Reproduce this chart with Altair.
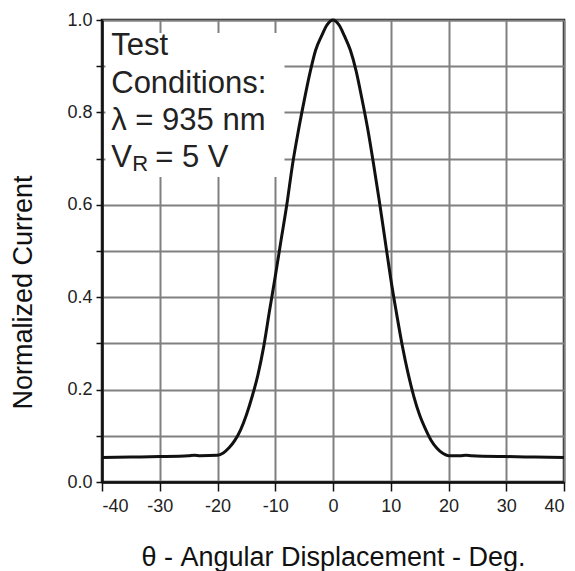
import altair as alt
import pandas as pd

# Curve data
angle_deg = [-40, -35, -30, -25, -24, -23, -20, -19, -18, -17, -16, -15, -14, -13, -12, -11,
             -10, -9, -8, -7, -6, -5, -4, -3, -2, -1, 0, 1, 2, 3, 4, 5, 6, 7, 8, 9, 10,
             11, 12, 13, 14, 15, 16, 17, 18, 19, 20, 22, 23, 24, 30, 35, 40]
norm_current = [0.053, 0.054, 0.055, 0.057, 0.058, 0.057, 0.058, 0.063, 0.074, 0.090, 0.113,
                0.145, 0.185, 0.232, 0.293, 0.370, 0.445, 0.523, 0.600, 0.688, 0.760, 0.825,
                0.885, 0.935, 0.965, 0.990, 1.000, 0.990, 0.965, 0.935, 0.890, 0.830, 0.765,
                0.690, 0.610, 0.525, 0.440, 0.365, 0.295, 0.235, 0.185, 0.145, 0.115, 0.090,
                0.073, 0.062, 0.057, 0.057, 0.058, 0.057, 0.055, 0.054, 0.053]

x_ticks = [-40, -30, -20, -10, 0, 10, 20, 30, 40]
y_ticks = [0.0, 0.1, 0.2, 0.3, 0.4, 0.5, 0.6, 0.7, 0.8, 0.9, 1.0]

curve = pd.DataFrame({"angle": angle_deg, "current": norm_current})

TICK_FONT = "Liberation Sans"
TEXT_FONT = "Liberation Sans"

xscale = alt.Scale(domain=[-40, 40], nice=False, zero=False)
yscale = alt.Scale(domain=[0, 1], nice=False)

xaxis = alt.Axis(values=x_ticks, title="θ - Angular Displacement - Deg.",
                 labelExpr="datum.value < 0 ? '-' + abs(datum.value) : '' + datum.value",
                 labelFont=TICK_FONT, labelFontSize=18, labelColor="#222",
                 labelPadding=6, tickSize=9, tickColor="#111", tickWidth=1.5,
                 domainColor="#111", domainWidth=2.5,
                 grid=True, gridColor="#808080", gridWidth=2,
                 titleFont=TEXT_FONT, titleFontSize=27, titleFontWeight="normal",
                 titleColor="#111", titleBaseline="alphabetic", titleY=83)

yaxis = alt.Axis(values=y_ticks, title="Normalized Current",
                 labelExpr="(round(datum.value*10) % 2 == 0) ? format(datum.value, '.1f') : ''",
                 labelFont=TICK_FONT, labelFontSize=18, labelColor="#222",
                 labelPadding=4, tickSize=6, tickColor="#111", tickWidth=1.5,
                 domainColor="#111", domainWidth=2.5,
                 grid=True, gridColor="#808080", gridWidth=2,
                 titleFont=TEXT_FONT, titleFontSize=27, titleFontWeight="normal",
                 titleColor="#111", titlePadding=29, titleY=272)

base = alt.Chart(curve)

line = base.mark_line(color="#111", strokeWidth=3, interpolate="monotone").encode(
    x=alt.X("angle:Q", scale=xscale, axis=xaxis),
    y=alt.Y("current:Q", scale=yscale, axis=yaxis),
)

# white box behind the test-conditions note
box_df = pd.DataFrame({"x1": [-39.4], "x2": [-8.4], "y1": [0.66], "y2": [0.972]})
box = alt.Chart(box_df).mark_rect(color="white").encode(
    x=alt.X("x1:Q", scale=xscale), x2="x2:Q",
    y=alt.Y("y1:Q", scale=yscale), y2="y2:Q",
)

note_df = pd.DataFrame({
    "x": [-38.4, -38.4, -38.4],
    "y": [0.924, 0.842, 0.762],
    "t": ["Test", "Conditions:", "λ = 935 nm"],
})
note = alt.Chart(note_df).mark_text(align="left", baseline="alphabetic", font=TEXT_FONT,
                                    fontSize=31, color="#222").encode(
    x=alt.X("x:Q", scale=xscale), y=alt.Y("y:Q", scale=yscale), text="t:N")

vr_df = pd.DataFrame({"x": [-38.4], "y": [0.681]})
v_txt = alt.Chart(vr_df).mark_text(align="left", baseline="alphabetic", font=TEXT_FONT,
                                   fontSize=31, color="#222", text="V").encode(
    x=alt.X("x:Q", scale=xscale), y=alt.Y("y:Q", scale=yscale))
r_txt = alt.Chart(vr_df).mark_text(align="left", baseline="alphabetic", font=TEXT_FONT,
                                   fontSize=22, color="#222", text="R", dx=21, dy=4).encode(
    x=alt.X("x:Q", scale=xscale), y=alt.Y("y:Q", scale=yscale))
rest_txt = alt.Chart(vr_df).mark_text(align="left", baseline="alphabetic", font=TEXT_FONT,
                                      fontSize=31, color="#222", text="= 5 V", dx=44).encode(
    x=alt.X("x:Q", scale=xscale), y=alt.Y("y:Q", scale=yscale))

chart = alt.layer(box, line, note, v_txt, r_txt, rest_txt).properties(
    width=462, height=462,
    autosize=alt.AutoSizeParams(type="none"),
    padding={"left": 94, "top": 12, "right": 3, "bottom": 89},
    background="white",
).configure_view(stroke="#111", strokeWidth=2.5)

chart.save("out.html", embed_options={"renderer": "svg", "actions": False})
